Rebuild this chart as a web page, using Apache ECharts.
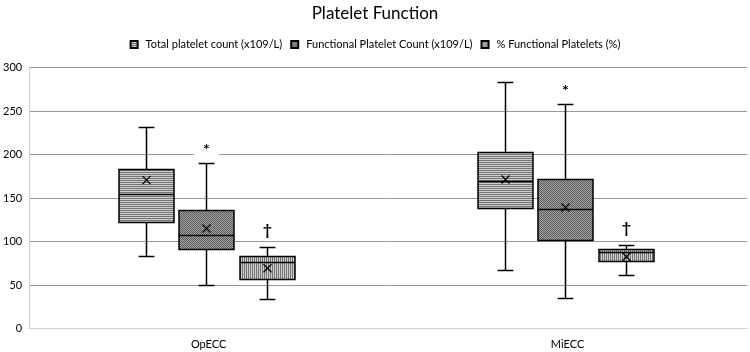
<!DOCTYPE html>
<html>
<head>
<meta charset="utf-8">
<script src="https://cdn.jsdelivr.net/npm/echarts@6/dist/echarts.min.js"></script>
<style>html,body{margin:0;padding:0;background:#fff;}#c{width:750px;height:352px;}</style>
</head>
<body>
<div id="c"></div>
<script>
const categories = ['OpECC', 'MiECC'];
const seriesNames = ['Total platelet count (x109/L)', 'Functional Platelet Count (x109/L)', '% Functional Platelets (%)'];
// [min, Q1, median, Q3, max] per category
const totalStats = [[83.5, 122.6, 154.8, 183.5, 231.5], [66.7, 138.7, 169.3, 203, 283.5]];
const totalMeans = [170.5, 171.3];
const functionalStats = [[50.5, 91, 106.9, 136.7, 190], [34.5, 102, 137.2, 172.4, 258.6]];
const functionalMeans = [114.9, 139];
const percentStats = [[33.7, 57, 76.6, 82.8, 93.5], [61, 77.4, 87.7, 91.6, 96.2]];
const percentMeans = [69.3, 82.4];
const significance = [['', ''], ['*', '*'], ['†', '†']];
const yMin = 0, yMax = 300, yStep = 50;

function makePattern(kind) {
  const c = document.createElement('canvas');
  c.width = 2; c.height = 2;
  const g = c.getContext('2d');
  if (kind === 'h') {
    g.fillStyle = '#cfcfcf'; g.fillRect(0, 0, 2, 2);
    g.fillStyle = '#737373'; g.fillRect(0, 0, 2, 1);
  } else if (kind === 'd') {
    g.fillStyle = '#a4a4a4'; g.fillRect(0, 0, 2, 2);
    g.fillStyle = '#5a5a5a'; g.fillRect(0, 0, 1, 1); g.fillRect(1, 1, 1, 1);
  } else {
    g.fillStyle = '#cfcfcf'; g.fillRect(0, 0, 2, 2);
    g.fillStyle = '#737373'; g.fillRect(0, 0, 1, 2);
  }
  return { image: c, repeat: 'repeat' };
}
const patterns = [makePattern('h'), makePattern('d'), makePattern('v')];
const allStats = [totalStats, functionalStats, percentStats];
const allMeans = [totalMeans, functionalMeans, percentMeans];
const offsets = [-0.175, -0.006, 0.163];

function buildData(si) {
  return categories.map((c, i) => [i].concat(allStats[si][i], [allMeans[si][i]]));
}

function makeRender(si) {
  return function (params, api) {
    const cat = api.value(0);
    const band = api.size([1, 0])[0];
    const cx = Math.round(api.coord([cat, 0])[0] + offsets[si] * band) + 0.5;
    const bw = band * 0.154;
    const cw = band * 0.044;
    const y = v => Math.round(api.coord([cat, v])[1]) + 0.5;
    const vMin = api.value(1), q1 = api.value(2), med = api.value(3), q3 = api.value(4), vMax = api.value(5), mean = api.value(6);
    const lineStyle = { stroke: '#000', lineWidth: 1.5, fill: null };
    const ch = [];
    ch.push({ type: 'line', shape: { x1: cx, y1: y(vMax), x2: cx, y2: y(q3) }, style: lineStyle });
    ch.push({ type: 'line', shape: { x1: cx, y1: y(q1), x2: cx, y2: y(vMin) }, style: lineStyle });
    ch.push({ type: 'line', shape: { x1: cx - cw / 2, y1: y(vMax), x2: cx + cw / 2, y2: y(vMax) }, style: lineStyle });
    ch.push({ type: 'line', shape: { x1: cx - cw / 2, y1: y(vMin), x2: cx + cw / 2, y2: y(vMin) }, style: lineStyle });
    ch.push({ type: 'rect', shape: { x: Math.round(cx - bw / 2), y: y(q3), width: Math.round(bw), height: y(q1) - y(q3) },
      style: { fill: patterns[si], stroke: '#000', lineWidth: 1.5 } });
    ch.push({ type: 'line', shape: { x1: Math.round(cx - bw / 2), y1: y(med), x2: Math.round(cx - bw / 2) + Math.round(bw), y2: y(med) }, style: lineStyle });
    const my = api.coord([cat, mean])[1];
    const s = 4;
    ch.push({ type: 'line', shape: { x1: cx - s, y1: my - s, x2: cx + s, y2: my + s }, style: { stroke: '#000', lineWidth: 1.3 } });
    ch.push({ type: 'line', shape: { x1: cx - s, y1: my + s, x2: cx + s, y2: my - s }, style: { stroke: '#000', lineWidth: 1.3 } });
    const mark = significance[si][cat];
    if (mark) {
      ch.push({ type: 'text', style: {
        text: mark, x: cx, y: y(vMax) - (mark === '*' ? 14 : 18), align: 'center', verticalAlign: 'middle',
        font: 'bold 16px Lato', fill: '#000',
        backgroundColor: mark === '*' ? '#fff' : null, padding: [3, 9, 3, 9]
      }, z2: 10 });
    }
    return { type: 'group', children: ch };
  };
}

const chart = echarts.init(document.getElementById('c'), null, { renderer: 'canvas' });
chart.setOption({
  animation: false,
  backgroundColor: '#fff',
  title: {
    text: 'Platelet Function', left: 'center', top: 0,
    textStyle: { fontFamily: 'Lato', fontSize: 17, fontWeight: 'normal', color: '#000' }
  },
  legend: {
    top: 34, left: 'center', itemWidth: 13, itemHeight: 7, itemGap: 8,
    icon: 'path://M0,0H7V7H0Z',
    textStyle: { fontFamily: 'Lato', fontSize: 11, color: '#000' },
    data: seriesNames
  },
  grid: { left: 26, right: 3, top: 67.5, bottom: 23.5, containLabel: false },
  xAxis: {
    type: 'category', data: categories,
    axisLine: { lineStyle: { color: '#d0d0d0', width: 1 } },
    axisTick: { show: false },
    axisLabel: { fontFamily: 'Lato', fontSize: 11, color: '#000', margin: 10 }
  },
  yAxis: {
    type: 'value', min: yMin, max: yMax, interval: yStep,
    axisLine: { show: true, lineStyle: { color: '#d0d0d0', width: 1 } },
    axisTick: { show: false },
    splitLine: { lineStyle: { color: '#999', width: 1 } },
    axisLabel: { fontFamily: 'Lato', fontSize: 11, color: '#000', margin: 7 }
  },
  series: seriesNames.map((name, si) => ({
    name: name, type: 'custom',
    itemStyle: { color: patterns[si], borderColor: '#000', borderWidth: 1 },
    encode: { x: 0, y: [1, 2, 3, 4, 5, 6] },
    data: buildData(si),
    renderItem: makeRender(si)
  }))
});
</script>
</body>
</html>
